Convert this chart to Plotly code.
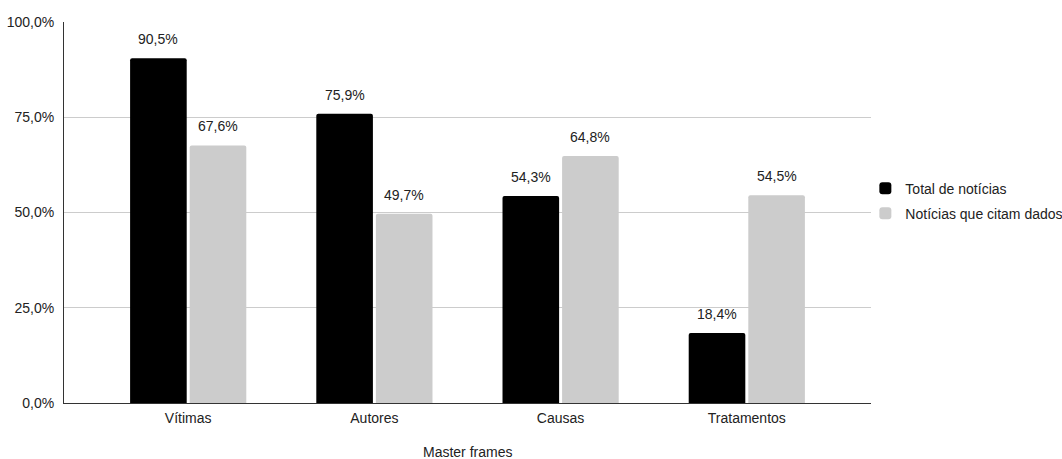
import plotly.graph_objects as go

categories = ["Vítimas", "Autores", "Causas", "Tratamentos"]
total_noticias = [0.905, 0.759, 0.543, 0.184]
noticias_dados = [0.676, 0.497, 0.648, 0.545]
series_names = ["Total de notícias", "Notícias que citam dados"]
colors = ["#000000", "#cccccc"]
tick_vals = [0, 0.25, 0.5, 0.75, 1.0]
x_title = "Master frames"

FONT = "Arial, Liberation Sans, sans-serif"
FS = 14
TXT = "#222222"

fig = go.Figure()
for i, (name, vals, col) in enumerate(zip(series_names, [total_noticias, noticias_dados], colors)):
    fig.add_trace(go.Bar(
        x=categories, y=vals, name=name, legendgroup=f"g{i}",
        marker=dict(color=col, line=dict(width=0), cornerradius=2),
        offsetgroup=str(i),
    ))

# value labels above bars
n = len(series_names)
group_frac = 1 - 0.36
bar_slot = group_frac / n
for i, vals in enumerate([total_noticias, noticias_dados]):
    for j, (cat, v) in enumerate(zip(categories, vals)):
        xoff = -group_frac / 2 + bar_slot * (i + 0.5)
        fig.add_annotation(
            x=j + xoff, y=v, xref="x", yref="y",
            text=f"{v*100:.1f}%".replace(".", ","),
            showarrow=False, yanchor="bottom", yshift=9,
            font=dict(family=FONT, size=FS, color=TXT),
        )

# x-axis title
fig.add_annotation(
    x=0.5, y=0, xref="paper", yref="paper", text=x_title,
    showarrow=False, yanchor="middle", yshift=-49, borderpad=0,
    font=dict(family=FONT, size=FS, color=TXT),
)

fig.update_layout(
    width=1062, height=459,
    margin=dict(l=64, r=191, t=22, b=56, autoexpand=False),
    paper_bgcolor="white", plot_bgcolor="white",
    separators=",.",
    barmode="group", bargap=0.36, bargroupgap=0.05,
    font=dict(family=FONT, size=FS, color=TXT),
    showlegend=True,
    legend=dict(x=0.993, xanchor="left", y=0.53, yanchor="middle",
                font=dict(family=FONT, size=FS, color=TXT),
                itemwidth=30, tracegroupgap=4, bgcolor="rgba(0,0,0,0)"),
    xaxis=dict(
        type="category", range=[-0.667, 3.667], automargin=False,
        showline=True, linecolor="#333333", linewidth=1,
        ticks="", ticklabelstandoff=2,
        tickfont=dict(family=FONT, size=FS, color=TXT),
    ),
    yaxis=dict(
        range=[0, 1.0], tickvals=tick_vals, tickformat=".1%", automargin=False,
        showgrid=True, gridcolor="#cccccc", gridwidth=1,
        showline=True, linecolor="#333333", linewidth=1,
        zeroline=False, ticks="", ticklabelstandoff=6,
        tickfont=dict(family=FONT, size=FS, color=TXT),
    ),
)

fig.write_html("out.html")
